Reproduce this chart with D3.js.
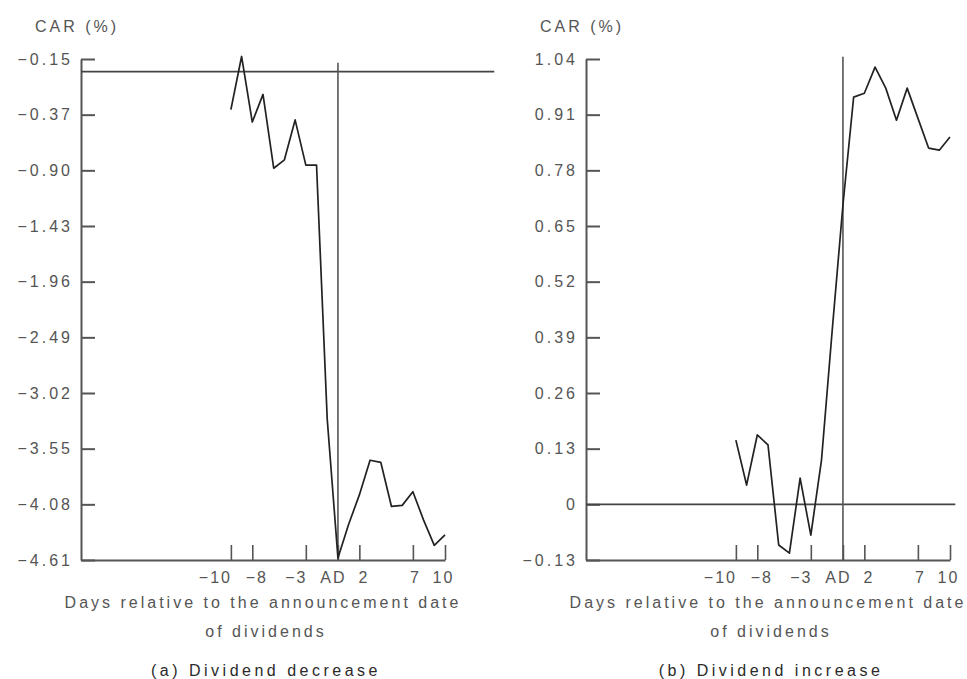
<!DOCTYPE html>
<html>
<head>
<meta charset="utf-8">
<script src="https://cdn.jsdelivr.net/npm/d3@7"></script>
<style>
  body { margin: 0; background: #fff; }
  svg { display: block; }
  text { font-family: "Liberation Sans", Arial, sans-serif; font-size: 16px; letter-spacing: 3px; fill: #555; }
  .caption { fill: #2a2a2a; letter-spacing: 3.5px; }
</style>
</head>
<body>
<svg id="chart" width="967" height="679"></svg>
<script>
// ---- data ----
const days = [-10,-9,-8,-7,-6,-5,-4,-3,-2,-1,0,1,2,3,4,5,6,7,8,9,10];
const carDecrease = [-0.35,-0.14,-0.44,-0.29,-0.88,-0.80,-0.42,-0.85,-0.85,-3.27,-4.59,
                     -4.27,-3.99,-3.66,-3.68,-4.10,-4.09,-3.96,-4.23,-4.47,-4.37];
const carIncrease = [0.150,0.045,0.162,0.139,-0.095,-0.114,0.061,-0.072,0.104,0.407,0.699,
                     0.951,0.960,1.021,0.972,0.897,0.972,0.902,0.832,0.827,0.858];
const leftYTicks  = [-0.15,-0.37,-0.90,-1.43,-1.96,-2.49,-3.02,-3.55,-4.08,-4.61];
const rightYTicks = [1.04,0.91,0.78,0.65,0.52,0.39,0.26,0.13,0,-0.13];
const xTicks      = [-10,-8,-3,0,2,7,10];
const xTickLabels = ["\u221210","\u22128","\u22123","AD","2","7","10"];
const yTitle = "CAR (%)";
const xTitle1 = "Days relative to the announcement date";
const xTitle2 = "of dividends";
const captions = ["(a) Dividend decrease", "(b) Dividend increase"];
const xDomain = [-24, 10];
// reference lines: value, day where the line ends, top of the AD line
const leftRef  = {value: -0.20, end: 14.6, adTop: -0.165};
const rightRef = {value: 0,     end: 10.5, adTop: 1.045};

// ---- layout ----
const svg = d3.select("#chart");
const plotTop = 59, plotBottom = 560, plotW = 364;
const xLabelShift = [-16, 4, -10, -5, 4, 2, -2];   // label nudges as on the original print

function fmt(v) {
  if (v === 0) return "0";
  const s = Math.abs(v).toFixed(2);
  return v < 0 ? "\u2212" + s : s;
}

function panel(ox, values, ticks, ref, caption, linear) {
  const g = svg.append("g").attr("transform", `translate(${ox},0)`);
  const x = d3.scaleLinear().domain(xDomain).range([0, plotW]);
  let y;
  if (linear) {
    y = d3.scaleLinear().domain([d3.min(ticks), d3.max(ticks)]).range([plotBottom, plotTop]);
  } else {
    // tick labels are evenly spaced on the original figure
    const step = (plotBottom - plotTop) / (ticks.length - 1);
    y = d3.scaleLinear().domain(ticks).range(ticks.map((d, i) => plotTop + i * step));
  }

  // y axis
  const ya = g.append("g").call(
    d3.axisLeft(y).tickValues(ticks).tickFormat(fmt).tickSize(-14).tickSizeOuter(0).tickPadding(8)
  );
  ya.attr("font-size", null).attr("font-family", null);
  ya.select(".domain").attr("stroke", "#555").attr("stroke-width", 2);
  ya.selectAll(".tick line").attr("stroke", "#555").attr("stroke-width", 2);

  // x axis
  const xa = g.append("g").attr("transform", `translate(0,${plotBottom})`).call(
    d3.axisBottom(x).tickValues(xTicks).tickFormat((d, i) => xTickLabels[i]).tickSize(-15).tickSizeOuter(0).tickPadding(12)
  );
  xa.attr("font-size", null).attr("font-family", null);
  xa.select(".domain").attr("stroke", "#555").attr("stroke-width", 2);
  xa.selectAll(".tick line").attr("stroke", "#555").attr("stroke-width", 1.6);
  xa.selectAll(".tick text").attr("dx", (d, i) => xLabelShift[i]).style("letter-spacing", "2px");

  // horizontal reference line
  g.append("line")
    .attr("x1", x(xDomain[0])).attr("x2", x(ref.end))
    .attr("y1", y(ref.value)).attr("y2", y(ref.value))
    .attr("stroke", "#444").attr("stroke-width", 1.8);
  // announcement-date vertical line
  g.append("line")
    .attr("x1", x(0)).attr("x2", x(0))
    .attr("y1", y(ref.adTop)).attr("y2", plotBottom)
    .attr("stroke", "#555").attr("stroke-width", 1.6);

  // CAR line
  const line = d3.line().x((d, i) => x(days[i])).y(d => y(d));
  g.append("path").datum(values)
    .attr("d", line)
    .attr("fill", "none").attr("stroke", "#222").attr("stroke-width", 1.7)
    .attr("stroke-linejoin", "round");

  // texts
  g.append("text").attr("x", -46).attr("y", 32).text(yTitle);
  const cx = plotW / 2;
  g.append("text").attr("x", cx).attr("y", 608).attr("text-anchor", "middle").text(xTitle1);
  g.append("text").attr("x", cx + 3).attr("y", 637).attr("text-anchor", "middle").text(xTitle2);
  g.append("text").attr("class", "caption").attr("x", cx + 3).attr("y", 676).attr("text-anchor", "middle").text(caption);
}

panel(81, carDecrease, leftYTicks, leftRef, captions[0], false);
panel(586, carIncrease, rightYTicks, rightRef, captions[1], true);
</script>
</body>
</html>
